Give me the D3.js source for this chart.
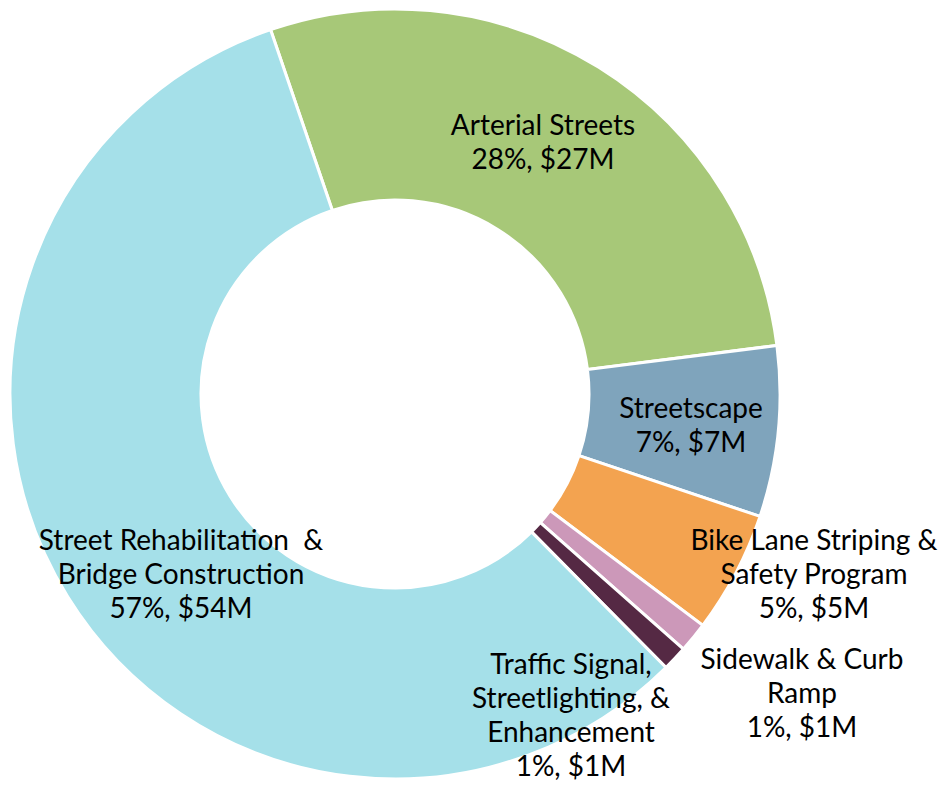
<!DOCTYPE html>
<html>
<head>
<meta charset="utf-8">
<script src="https://cdn.jsdelivr.net/npm/d3@7"></script>
<style>
  body { margin: 0; background: #fff; }
  text { font-family: Lato, "Open Sans", sans-serif; white-space: pre; }
</style>
</head>
<body>
<svg id="chart"></svg>
<script>
// spending by program, $M (slice sizes)
const categories = ["Arterial Streets", "Streetscape", "Bike Lane Striping & Safety Program",
    "Sidewalk & Curb Ramp", "Traffic Signal, Streetlighting, & Enhancement",
    "Street Rehabilitation & Bridge Construction"]
const amounts = [26.8, 6.8, 4.85, 1.2, 1.0, 54.3]
const pctLabels = ["28%", "7%", "5%", "1%", "1%", "57%"]
const dollarLabels = ["$27M", "$7M", "$5M", "$1M", "$1M", "$54M"]
const nameLines = [
    ["Arterial Streets"],
    ["Streetscape"],
    ["Bike Lane Striping &", "Safety Program"],
    ["Sidewalk & Curb", "Ramp"],
    ["Traffic Signal,", "Streetlighting, &", "Enhancement"],
    ["Street Rehabilitation  &", "Bridge Construction"]
]

const colors = ["#A7C878", "#7FA4BC", "#F3A350", "#CC98B9", "#552944", "#A5E0E9"]

// label anchor offsets from the centre (first baseline)
const labelPos = [[148, -259], [296, 24], [419, 156], [407, 275], [176, 280], [-214, 156]]

const width = 946
const height = 785
const cx = 395, cy = 394
const outerR = 385
const innerR = 194
const lineH = 34

const data = categories.map((c, i) => ({ name: c, value: amounts[i], i }))

const svg = d3.select('#chart')
    .attr('width', width)
    .attr('height', height)
    .style('background', '#FFFFFF')

const g = svg.append('g').attr('transform', `translate(${cx},${cy})`)

const startA = -18.85 * Math.PI / 180
const pie = d3.pie()
    .value(d => d.value)
    .sort(null)
    .startAngle(startA)
    .endAngle(startA + 2 * Math.PI)

const arc = d3.arc().innerRadius(innerR).outerRadius(outerR)

const color = d3.scaleOrdinal().domain(categories).range(colors)

g.selectAll('path')
    .data(pie(data))
    .enter()
    .append('path')
    .attr('d', arc)
    .attr('fill', d => color(d.data.name))
    .attr('stroke', '#FFFFFF')
    .attr('stroke-width', 3)

const labels = g.selectAll('text.lbl')
    .data(data)
    .enter()
    .append('text')
    .attr('class', 'lbl')
    .attr('text-anchor', 'middle')
    .attr('font-size', 28)
    .attr('fill', '#000')

labels.each(function (d) {
    const t = d3.select(this)
    const [x, y] = labelPos[d.i]
    const lines = nameLines[d.i].concat([`${pctLabels[d.i]}, ${dollarLabels[d.i]}`])
    lines.forEach((ln, k) => {
        t.append('tspan')
            .attr('x', x)
            .attr('y', y + k * lineH)
            .text(ln)
    })
})
</script>
</body>
</html>
